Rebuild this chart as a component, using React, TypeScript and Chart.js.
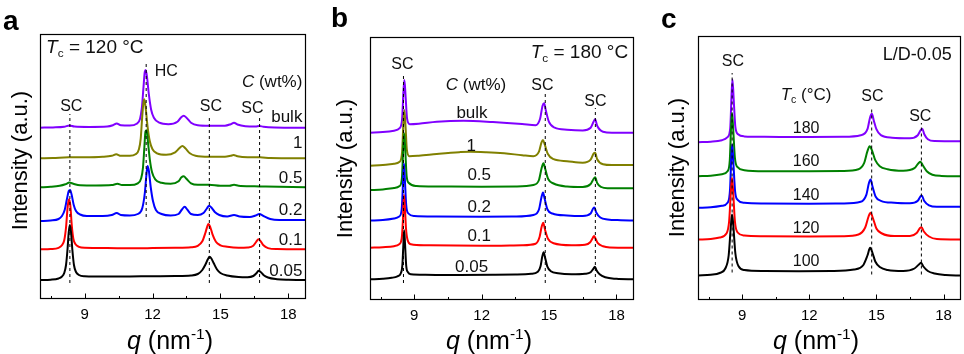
import React, { useEffect, useRef } from 'react';
import { Chart, registerables } from 'chart.js';

Chart.register(...registerables);

const FONT = "'Liberation Sans', Arial, Helvetica, sans-serif";

// ---------- shared axis values ----------
const Q_MIN = 7.03;
const Q_MAX = 18.78;
const Q_TICKS = [7.5, 9, 10.5, 12, 13.5, 15, 16.5, 18];
const Q_LABELED = [9, 12, 15, 18];

// ---------- panel a : Tc = 120 °C, concentration series ----------
const A_LABELS = ['0.05', '0.1', '0.2', '0.5', '1', 'bulk'];
const A_OFFSETS = [19, 49.7, 78, 111.7, 140.7, 171.3];
const A_005 = [[7.03,0],[7.5,0.3],[7.85,1.5],[8.0,3.5],[8.1,7],[8.18,15],[8.25,32],[8.3,48],[8.35,55],[8.4,48],[8.46,30],[8.53,15],[8.62,8],[8.75,5],[9.0,3.8],[10.0,3.4],[11.0,3.6],[12.0,3.8],[13.0,4.0],[13.7,4.5],[14.0,6],[14.2,10],[14.35,16],[14.45,21],[14.52,23.3],[14.6,21.5],[14.7,17],[14.85,10.5],[15.0,7],[15.3,4.5],[15.8,3],[16.2,2.8],[16.45,4],[16.6,7],[16.68,9.3],[16.78,8],[16.9,5],[17.1,2.5],[17.5,0.8],[18.0,0.2],[18.78,0]];
const A_01 = [[7.03,0],[7.5,0.3],[7.85,1.5],[8.0,4],[8.1,9],[8.18,22],[8.25,42],[8.31,50],[8.37,44],[8.43,25],[8.5,11],[8.6,5],[8.75,2.5],[9.0,1.5],[10.0,1.2],[11.0,1.0],[12.0,1.2],[13.0,1.5],[13.7,2],[14.0,3.5],[14.2,8],[14.33,16],[14.42,23],[14.47,25.3],[14.54,23],[14.65,15],[14.8,7.5],[15.0,4],[15.3,2.5],[15.8,1.5],[16.2,1.8],[16.45,3.5],[16.58,7.5],[16.68,10],[16.78,8],[16.9,4],[17.1,1.2],[17.5,0.2],[18.78,0]];
const A_02 = [[7.03,0],[7.5,0.5],[7.85,2],[8.0,5],[8.12,11],[8.22,22],[8.3,30],[8.36,31],[8.43,26],[8.52,16],[8.62,10],[8.8,6.5],[9.1,5],[9.8,5],[10.2,6],[10.42,8],[10.6,6],[11.0,5.5],[11.35,7],[11.55,13],[11.66,28],[11.73,46],[11.78,55],[11.84,50],[11.92,34],[12.02,20],[12.15,11],[12.4,7],[12.8,5.5],[13.15,7],[13.3,11.5],[13.42,14.3],[13.55,11],[13.7,7],[14.0,6],[14.25,8],[14.4,12.5],[14.5,15.3],[14.6,13.5],[14.75,9],[14.95,6],[15.3,4.5],[15.6,6],[15.85,4.5],[16.3,4],[16.55,5.5],[16.72,7],[16.9,5],[17.2,2],[17.6,1],[18.78,1]];
const A_05 = [[7.03,0],[7.5,0.5],[7.9,1.5],[8.15,3],[8.33,4.7],[8.5,3.5],[8.8,2],[9.5,1.8],[10.2,2.2],[10.45,3.5],[10.65,2.2],[11.0,2.2],[11.35,4],[11.5,9],[11.58,20],[11.64,40],[11.69,56],[11.74,57],[11.8,45],[11.88,28],[11.98,15],[12.12,8],[12.4,4.5],[12.8,3.5],[13.15,6],[13.28,10],[13.38,11],[13.5,8.5],[13.7,4],[14.0,2.5],[14.5,2.5],[15.0,1.5],[15.4,1.5],[15.6,2.5],[15.8,1.5],[16.5,1],[17.0,0.7],[18.78,0]];
const A_1 = [[7.03,0],[7.6,0.3],[8.3,1],[9.0,1],[9.8,1.5],[10.2,2.5],[10.4,4],[10.6,2.5],[11.0,2.5],[11.25,4],[11.4,9],[11.48,20],[11.54,40],[11.6,56],[11.64,59],[11.7,50],[11.78,32],[11.88,17],[12.0,9],[12.2,5],[12.6,3.5],[13.0,6],[13.18,10],[13.32,12.3],[13.45,10],[13.65,5],[13.9,2.5],[14.5,1.5],[15.2,1.5],[15.45,2.5],[15.58,3.3],[15.75,2],[16.2,1],[16.75,1],[17.2,0.3],[18.78,0]];
const A_BULK = [[7.03,0],[7.6,0.3],[8.1,1],[8.33,2.3],[8.55,1.2],[9.2,0.8],[10.0,1.2],[10.25,2.5],[10.42,4.3],[10.6,2.5],[11.0,2.3],[11.3,4],[11.45,9],[11.53,20],[11.6,40],[11.66,56],[11.7,57.7],[11.76,50],[11.84,33],[11.94,18],[12.06,10],[12.3,5],[12.7,3.5],[13.1,6],[13.25,10],[13.38,12],[13.5,10],[13.7,5],[14.0,2.5],[14.5,2],[15.2,2],[15.45,3.5],[15.6,5],[15.75,3.2],[16.1,1.5],[16.55,1.2],[16.72,1.7],[16.9,1],[17.4,0.3],[18.78,0]];
const A_CURVES = [A_005, A_01, A_02, A_05, A_1, A_BULK];
const A_MARK_Q = [8.35, 11.72, 14.51, 16.73];
const A_MARK_Y = [[16, 185], [82, 236], [16, 184], [16, 182]];

// ---------- panel b : Tc = 180 °C, concentration series ----------
const B_LABELS = ['0.05', '0.1', '0.2', '0.5', '1', 'bulk'];
const B_OFFSETS = [20.7, 52.3, 79.5, 110, 134.3, 167.3];
const B_005 = [[7.03,0],[7.6,0.5],[8.0,1.5],[8.25,3],[8.4,6],[8.47,14],[8.51,32],[8.55,49],[8.59,35],[8.64,14],[8.72,7],[8.85,5],[9.5,4.5],[11.0,4.3],[12.5,4.5],[13.5,4.8],[14.2,5.5],[14.5,7.5],[14.62,13],[14.7,23],[14.76,27],[14.82,22],[14.92,13],[15.08,8],[15.4,6],[16.0,5],[16.6,5.5],[16.85,7],[16.97,10.5],[17.04,12.6],[17.11,9],[17.25,5],[17.5,2],[18.0,0.5],[18.78,0]];
const B_01 = [[7.03,0],[7.6,0.5],[8.1,1.5],[8.33,3.5],[8.44,9],[8.5,30],[8.54,52.7],[8.58,42],[8.63,20],[8.7,8],[8.85,3.5],[9.5,2.5],[12.0,2],[13.8,2.5],[14.4,4],[14.58,11],[14.67,21],[14.74,25],[14.82,18],[14.95,9],[15.2,4.5],[16.0,2.5],[16.6,3],[16.83,5.5],[16.95,10],[17.0,11.7],[17.07,9],[17.17,4.5],[17.4,1.5],[17.7,0.3],[18.78,0]];
const B_02 = [[7.03,0],[7.6,0.5],[8.1,2],[8.33,4],[8.44,11],[8.5,38],[8.54,57],[8.58,42],[8.64,16],[8.74,7],[9.0,4.5],[10.0,4],[12.0,3.8],[13.5,4],[14.3,5.5],[14.55,11],[14.66,23],[14.73,28],[14.8,22],[14.93,11],[15.15,7],[15.8,5],[16.5,4.5],[16.85,7],[16.96,12],[17.02,13],[17.1,8],[17.28,3],[17.6,1],[18.2,0.3],[18.78,0]];
const B_05 = [[7.03,0],[7.6,0.5],[8.1,2],[8.35,4],[8.45,12],[8.51,42],[8.55,56.7],[8.6,40],[8.66,14],[8.76,7],[9.1,4],[10.0,3.5],[12.0,3.2],[13.5,3.5],[14.3,5],[14.55,10],[14.67,22],[14.75,26.7],[14.83,21],[14.96,11],[15.2,6.5],[15.8,3.5],[16.5,3],[16.85,6],[16.98,11],[17.05,12.7],[17.14,7],[17.32,3],[17.6,1.7],[18.78,1.7]];
const B_1 = [[7.03,0],[7.6,0.7],[8.1,2],[8.35,4],[8.46,14],[8.52,45],[8.56,55.7],[8.61,40],[8.67,16],[8.78,9.5],[9.2,10],[10.0,11.7],[11.0,13.5],[11.5,14],[12.2,13.5],[13.0,12.4],[13.8,10.5],[14.3,9.5],[14.55,14],[14.66,23],[14.73,25.7],[14.81,21],[14.94,12],[15.2,6.5],[15.8,4.5],[16.5,3],[16.85,6],[16.98,12],[17.05,13],[17.14,6.5],[17.4,1.5],[17.8,0.7],[18.78,0.7]];
const B_BULK = [[7.03,0],[7.6,0.7],[8.1,2],[8.35,4.5],[8.46,14],[8.52,42],[8.56,52.7],[8.61,38],[8.68,14],[8.8,8.5],[9.2,9],[10.0,11],[11.2,12],[12.5,10.7],[13.8,8.7],[14.4,7.5],[14.6,14],[14.71,27],[14.78,29.4],[14.86,22],[14.99,11],[15.25,5],[15.8,3],[16.5,2.3],[16.85,5],[16.98,11],[17.05,13.4],[17.14,7],[17.4,1],[17.8,0],[18.78,0]];
const B_CURVES = [B_005, B_01, B_02, B_05, B_1, B_BULK];
const B_MARK_Q = [8.52, 14.83, 17.06];
const B_MARK_Y = [[17, 227], [17, 207], [17, 192]];

// ---------- panel c : L/D-0.05, Tc series ----------
const C_LABELS = ['100', '120', '140', '160', '180'];
const C_OFFSETS = [24.5, 60.5, 92.2, 123.8, 157.8];
const C_100 = [[7.03,0],[7.6,0.7],[8.0,2.5],[8.25,7],[8.4,20],[8.5,50],[8.55,61],[8.6,52],[8.7,22],[8.85,9],[9.1,5.5],[10.0,4.5],[11.5,4.3],[13.0,4.5],[14.0,6],[14.4,10],[14.6,20],[14.72,27.7],[14.82,23],[14.95,14],[15.15,8.5],[15.5,5.5],[16.2,4.5],[16.7,7],[16.9,11],[17.0,12.7],[17.1,9],[17.3,4.5],[17.6,2],[18.1,0.5],[18.78,0]];
const C_120 = [[7.03,0],[7.6,0.5],[8.0,2],[8.3,6],[8.42,18],[8.5,48],[8.55,61.7],[8.6,48],[8.68,18],[8.8,7],[9.1,4],[10.0,3.3],[12.0,3],[13.5,3.3],[14.2,5],[14.5,12],[14.65,23],[14.74,26.7],[14.85,21],[15.0,11],[15.25,6],[15.8,3.5],[16.5,3.5],[16.8,6.5],[16.95,11.5],[17.02,12.3],[17.12,8],[17.35,3],[17.7,0.5],[18.78,0]];
const C_140 = [[7.03,0],[7.6,0.5],[8.1,2],[8.35,5],[8.46,18],[8.52,52],[8.56,63.3],[8.61,45],[8.69,16],[8.8,8],[9.1,5],[10.0,4.3],[12.0,4],[13.5,4.3],[14.3,6],[14.55,13],[14.67,25],[14.74,28.3],[14.83,21],[14.97,11],[15.2,7],[15.8,5],[16.5,4.5],[16.85,7],[16.97,11.5],[17.03,12.3],[17.13,7],[17.35,2.5],[17.7,1],[18.78,1]];
const C_160 = [[7.03,0],[7.6,0.5],[8.1,2],[8.35,5],[8.45,16],[8.51,50],[8.55,63.4],[8.6,48],[8.68,18],[8.8,9],[9.1,6],[10.0,5],[12.0,5],[13.5,5.3],[14.2,7],[14.45,13],[14.6,25],[14.7,30],[14.8,26],[14.95,16],[15.15,10],[15.5,7],[16.2,5.5],[16.7,8],[16.88,13],[16.97,14.4],[17.07,11],[17.25,5],[17.5,1.5],[17.9,0.3],[18.78,0]];
const C_180 = [[7.03,0],[7.6,0.5],[8.1,2],[8.35,5],[8.47,14],[8.53,48],[8.57,62.7],[8.62,45],[8.7,15],[8.82,8],[9.1,5.8],[10.0,5.4],[12.0,5.2],[13.5,5.4],[14.3,7],[14.6,13],[14.72,25],[14.8,28.4],[14.88,22],[15.0,13],[15.2,7],[15.7,4.5],[16.5,4],[16.85,7],[16.98,12],[17.05,13.4],[17.14,8],[17.3,3],[17.6,1.2],[18.78,1]];
const C_CURVES = [C_100, C_120, C_140, C_160, C_180];
const C_MARK_Q = [8.555, 14.79, 17.01];
const C_MARK_Y = [[27.5, 227], [25.5, 193.5], [25.5, 177]];

// ---------- styles ----------
const COLORS_6 = ['#000000', '#ff0000', '#0000ff', '#008000', '#808000', '#8000ff'];
const COLORS_5 = ['#000000', '#ff0000', '#0000ff', '#008000', '#8000ff'];

type Seg = { t: string; i?: boolean; b?: boolean; sub?: boolean; sup?: boolean };
type Note = { q: number; y: number; segs: Seg[]; size: number; align: 'left' | 'center' | 'right' };
type Panel = {
  key: string;
  canvasLeft: number;
  width: number;
  area: { left: number; top: number; right: number; bottom: number };
  yMax: number;
  curves: number[][][];
  offsets: number[];
  colors: string[];
  markQ: number[];
  markY: number[][];
  notes: Note[];
  letter: { x: number; y: number };
  yTitle: { x: number; y: number };
  xTitleX: number;
};

const T = (s: string): Seg[] => [{ t: s }];
const TC = (rest: string): Seg[] => [{ t: 'T', i: true }, { t: 'c', sub: true }, { t: rest }];
const CWT: Seg[] = [{ t: 'C', i: true }, { t: ' (wt%)' }];

const A_LABEL_Y = [23, 54, 84, 116, 151, 177];
const B_LABEL_Q = [11.55, 11.89, 11.89, 11.89, 11.53, 11.57];
const B_LABEL_Y = [28.3, 59.3, 87.7, 120, 149.3, 181.7];
const C_LABEL_Y = [33.8, 67.2, 100.5, 133.8, 167.2];

const PANELS: Panel[] = [
  {
    key: 'a', canvasLeft: 0, width: 320,
    area: { left: 40, top: 34, right: 306, bottom: 299 }, yMax: 265,
    curves: A_CURVES, offsets: A_OFFSETS, colors: COLORS_6,
    markQ: A_MARK_Q, markY: A_MARK_Y,
    notes: [
      { q: 7.30, y: 246, segs: TC(' = 120 °C'), size: 19, align: 'left' },
      { q: 12.10, y: 223, segs: T('HC'), size: 16, align: 'left' },
      { q: 18.62, y: 211.7, segs: CWT, size: 17, align: 'right' },
      { q: 8.41, y: 188, segs: T('SC'), size: 16, align: 'center' },
      { q: 14.58, y: 188, segs: T('SC'), size: 16, align: 'center' },
      { q: 16.41, y: 185.7, segs: T('SC'), size: 16, align: 'center' },
      ...A_LABELS.map((l, i) => ({ q: 18.62, y: A_LABEL_Y[i], segs: T(l), size: 17, align: 'right' as const })),
    ],
    letter: { x: 3, y: 30 }, yTitle: { x: 27, y: 160.5 }, xTitleX: 170,
  },
  {
    key: 'b', canvasLeft: 320, width: 324,
    area: { left: 50, top: 37, right: 314, bottom: 300 }, yMax: 263,
    curves: B_CURVES, offsets: B_OFFSETS, colors: COLORS_6,
    markQ: B_MARK_Q, markY: B_MARK_Y,
    notes: [
      { q: 18.52, y: 242.5, segs: TC(' = 180 °C'), size: 19, align: 'right' },
      { q: 8.47, y: 230.7, segs: T('SC'), size: 16, align: 'center' },
      { q: 11.75, y: 210, segs: CWT, size: 17, align: 'center' },
      { q: 14.7, y: 210, segs: T('SC'), size: 16, align: 'center' },
      { q: 17.06, y: 194, segs: T('SC'), size: 16, align: 'center' },
      ...B_LABELS.map((l, i) => ({ q: B_LABEL_Q[i], y: B_LABEL_Y[i], segs: T(l), size: 17, align: 'center' as const })),
    ],
    letter: { x: 11, y: 27 }, yTitle: { x: 32, y: 168.5 }, xTitleX: 169,
  },
  {
    key: 'c', canvasLeft: 644, width: 320,
    area: { left: 54, top: 36, right: 317, bottom: 300 }, yMax: 264,
    curves: C_CURVES, offsets: C_OFFSETS, colors: COLORS_5,
    markQ: C_MARK_Q, markY: C_MARK_Y,
    notes: [
      { q: 18.37, y: 240, segs: T('L/D-0.05'), size: 18, align: 'right' },
      { q: 8.59, y: 233.8, segs: T('SC'), size: 16, align: 'center' },
      { q: 11.86, y: 200.5, segs: TC(' (°C)'), size: 17, align: 'center' },
      { q: 14.82, y: 199.5, segs: T('SC'), size: 16, align: 'center' },
      { q: 16.96, y: 178.8, segs: T('SC'), size: 16, align: 'center' },
      ...C_LABELS.map((l, i) => ({ q: 11.86, y: C_LABEL_Y[i], segs: T(l), size: 16, align: 'center' as const })),
    ],
    letter: { x: 17, y: 28 }, yTitle: { x: 39.5, y: 167.5 }, xTitleX: 172,
  },
];

const CANVAS_H = 354;
const X_AXIS_H = 30;

function drawRich(ctx: CanvasRenderingContext2D, segs: Seg[], x: number, y: number, size: number, align: string, color = '#000') {
  const parts = segs.map((s) => {
    const fs = s.sub || s.sup ? size * 0.62 : size;
    const font = `${s.i ? 'italic ' : ''}${s.b ? 'bold ' : ''}${fs}px ${FONT}`;
    ctx.font = font;
    return { s, font, w: ctx.measureText(s.t).width, dy: s.sub ? size * 0.22 : s.sup ? -size * 0.4 : 0 };
  });
  const total = parts.reduce((a, p) => a + p.w, 0);
  let cx = align === 'left' ? x : align === 'right' ? x - total : x - total / 2;
  ctx.textAlign = 'left';
  ctx.textBaseline = 'alphabetic';
  ctx.fillStyle = color;
  for (const p of parts) {
    ctx.font = p.font;
    ctx.fillText(p.s.t, cx, y + p.dy);
    cx += p.w;
  }
}

function decorPlugin(panel: Panel) {
  return {
    id: 'decor' + panel.key,
    afterDraw(chart: any) {
      const ctx: CanvasRenderingContext2D = chart.ctx;
      const { left, top, right, bottom } = chart.chartArea;
      const xs = chart.scales.x;
      const ys = chart.scales.y;
      ctx.save();
      // frame
      ctx.strokeStyle = '#000';
      ctx.lineWidth = 1.2;
      ctx.strokeRect(left + 0.5, top + 0.5, right - left - 1, bottom - top - 1);
      // inward tick marks
      ctx.lineWidth = 1;
      xs.ticks.forEach((t: any) => {
        const x = Math.round(xs.getPixelForValue(t.value)) + 0.5;
        const major = Q_LABELED.some((v) => Math.abs(v - t.value) < 1e-6);
        ctx.beginPath();
        ctx.moveTo(x, bottom);
        ctx.lineTo(x, bottom - (major ? 5.5 : 3));
        ctx.stroke();
      });
      // annotations
      panel.notes.forEach((n) => {
        drawRich(ctx, n.segs, xs.getPixelForValue(n.q), ys.getPixelForValue(n.y), n.size, n.align, '#111');
      });
      // panel letter
      drawRich(ctx, [{ t: panel.key, b: true }], panel.letter.x, panel.letter.y, 28, 'left');
      // x title
      drawRich(ctx, [{ t: 'q', i: true }, { t: ' (nm' }, { t: '-1', sup: true }, { t: ')' }], panel.xTitleX, 349, 25, 'center');
      // y title
      ctx.translate(panel.yTitle.x, panel.yTitle.y);
      ctx.rotate(-Math.PI / 2);
      drawRich(ctx, T('Intensity (a.u.)'), 0, 0, 22, 'center');
      ctx.restore();
    },
  };
}

function buildConfig(panel: Panel): any {
  const marks = panel.markQ.map((q, i) => ({
    data: [{ x: q, y: panel.markY[i][0] }, { x: q, y: panel.markY[i][1] }],
    borderColor: '#000',
    borderWidth: 1,
    borderDash: [3, 3],
    pointRadius: 0,
    fill: false,
  }));
  const curves = panel.curves.map((c, i) => ({
    data: c.map(([q, v]) => ({ x: q, y: panel.offsets[i] + v })),
    borderColor: panel.colors[i],
    borderWidth: 2,
    pointRadius: 0,
    fill: false,
    cubicInterpolationMode: 'monotone',
  }));
  return {
    type: 'line',
    data: { datasets: [...marks, ...curves] },
    options: {
      animation: false,
      responsive: false,
      events: [],
      layout: {
        padding: {
          left: panel.area.left,
          top: panel.area.top,
          right: panel.width - panel.area.right,
          bottom: CANVAS_H - panel.area.bottom - X_AXIS_H,
        },
      },
      plugins: { legend: { display: false }, tooltip: { enabled: false } },
      scales: {
        x: {
          type: 'linear',
          min: Q_MIN,
          max: Q_MAX,
          afterBuildTicks: (s: any) => {
            s.ticks = Q_TICKS.map((v) => ({ value: v }));
          },
          afterFit: (s: any) => {
            s.height = X_AXIS_H;
          },
          ticks: {
            autoSkip: false,
            maxRotation: 0,
            padding: 7,
            color: '#000',
            font: { family: FONT, size: 15 },
            callback: (v: number) => (Q_LABELED.some((m) => Math.abs(m - v) < 1e-6) ? String(v) : ''),
          },
          grid: { display: false, drawTicks: false },
          border: { display: false },
        },
        y: { type: 'linear', min: 0, max: panel.yMax, display: false },
      },
    },
    plugins: [decorPlugin(panel)],
  };
}

function PanelChart({ panel }: { panel: Panel }) {
  const ref = useRef<HTMLCanvasElement>(null);
  useEffect(() => {
    const chart = new Chart(ref.current as HTMLCanvasElement, buildConfig(panel));
    return () => chart.destroy();
  }, [panel]);
  return (
    <canvas
      ref={ref}
      width={panel.width}
      height={CANVAS_H}
      style={{ position: 'absolute', left: panel.canvasLeft, top: 0, width: panel.width, height: CANVAS_H }}
    />
  );
}

export default function App() {
  return (
    <div style={{ position: 'absolute', left: 0, top: 0, width: 964, height: 354, background: '#fff', overflow: 'hidden' }}>
      {PANELS.map((p) => (
        <PanelChart key={p.key} panel={p} />
      ))}
    </div>
  );
}
